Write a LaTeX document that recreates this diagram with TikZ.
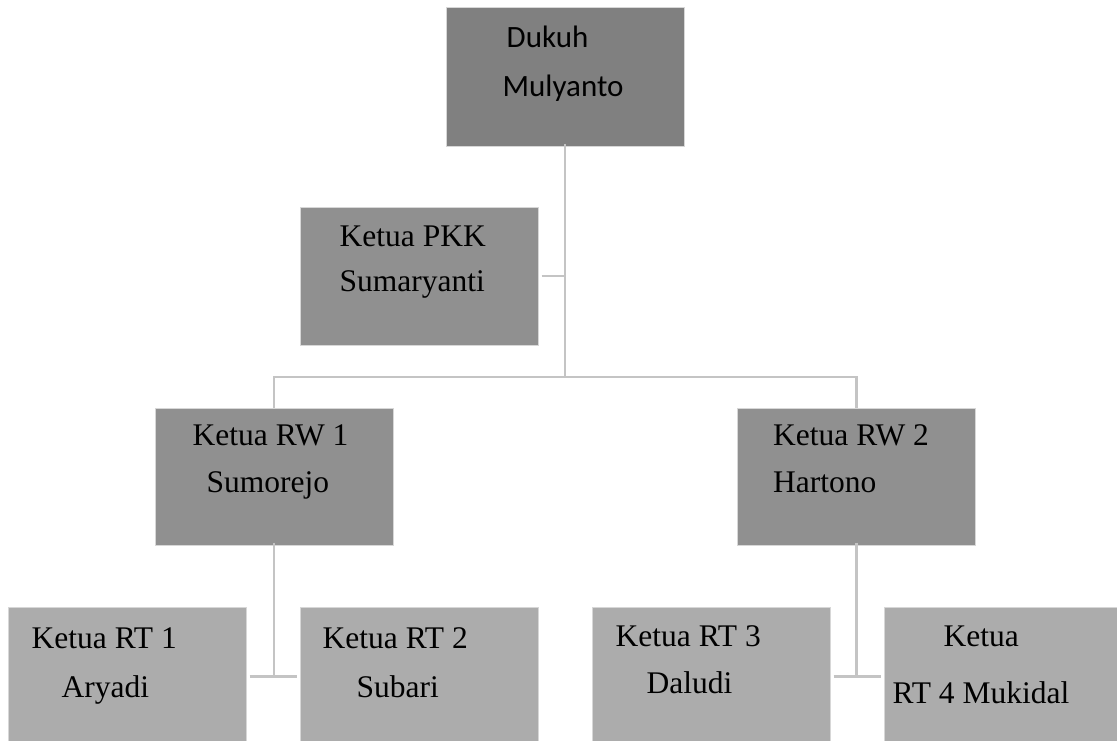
\documentclass[tikz,border=0pt]{standalone}
\usepackage{fontspec}
\setmainfont{Liberation Serif}
\newfontfamily\calibrifont{Carlito}
\usepackage{tikz}
\usetikzlibrary{positioning,calc}
\definecolor{headgray}{RGB}{128,128,128}
\definecolor{midgray}{RGB}{144,144,144}
\definecolor{lowgray}{RGB}{172,172,172}
\definecolor{linkgray}{RGB}{196,196,196}
\definecolor{rimgray}{RGB}{215,215,215}

\begin{document}
\begin{tikzpicture}[
    x=1pt, y=-1pt,
    node distance=53pt,
    box/.style={rectangle, draw=rimgray, line width=1pt, inner sep=0pt, minimum width=238pt, minimum height=138pt},
    txt/.style={inner sep=0pt, anchor=base west, align=left, font=\fontsize{31.5}{47}\selectfont},
    link/.style={draw=linkgray, line width=2.5pt}
]
    \useasboundingbox (0,0) rectangle (1117,740);

    % boxes
    \node[box, fill=headgray, minimum height=139pt] (dukuh) at (565,76.5) {};
    \node[box, fill=midgray] (pkk) at (419,276) {};
    \node[box, fill=midgray, minimum height=137pt] (rw1) at (274,476.5) {};
    \node[box, fill=midgray, minimum height=137pt] (rw2) at (856.5,476.5) {};
    \node[box, fill=lowgray] (rt1) at (127,676) {};
    \node[box, fill=lowgray, right=of rt1] (rt2) {};
    \node[box, fill=lowgray, right=of rt2] (rt3) {};
    \node[box, fill=lowgray, right=of rt3] (rt4) {};

    % labels (anchored on the last line)
    \node[txt, font=\calibrifont\fontsize{31}{47}\selectfont] (dukuh-t) at ([shift={(57,90)}]dukuh.north west) {\hspace*{4pt}Dukuh\\[2pt]Mulyanto};
    \node[txt] (pkk-t) at ([shift={(40,85)}]pkk.north west) {Ketua PKK\\[-2pt]Sumaryanti};
    \node[txt] (rw1-t) at ([shift={(38,85)}]rw1.north west) {Ketua RW 1\\\hspace*{14pt}Sumorejo};
    \node[txt] (rw2-t) at ([shift={(36,85)}]rw2.north west) {Ketua RW 2\\Hartono};
    \node[txt] (rt1-t) at ([shift={(24,91)}]rt1.north west) {Ketua RT 1\\[2pt]\hspace*{30pt}Aryadi};
    \node[txt] (rt2-t) at ([shift={(23,91)}]rt2.north west) {Ketua RT 2\\[2pt]\hspace*{34pt}Subari};
    \node[txt] (rt3-t) at ([shift={(24,87)}]rt3.north west) {Ketua RT 3\\\hspace*{31pt}Daludi};
    \node[txt] (rt4-t) at ([shift={(9,97)}]rt4.north west) {\hspace*{51pt}Ketua\\[10pt]RT 4 Mukidal};

    % connectors
    \coordinate (bus) at (565,377);
    \coordinate (fork1) at ($(rw1.south)+(0,131)$);
    \coordinate (fork2) at ($(rw2.south)+(0,131)$);

    \draw[link] ([yshift=3pt]dukuh.south) -- (bus);
    \draw[link] ([xshift=3pt]pkk.east) -- (pkk.east -| bus);
    \draw[link] (rw1.north) |- (bus) -| (rw2.north);
    \draw[link] ([yshift=3pt]rw1.south) -- (fork1);
    \draw[link] ([yshift=3pt]rw2.south) -- (fork2);
    \draw[link] ([xshift=3pt]rt1.east |- fork1) -- ([xshift=-3pt]rt2.west |- fork1);
    \draw[link] ([xshift=3pt]rt3.east |- fork2) -- ([xshift=-3pt]rt4.west |- fork2);
\end{tikzpicture}
\end{document}
